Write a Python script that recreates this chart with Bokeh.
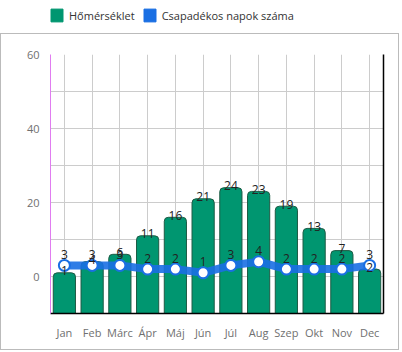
from bokeh.plotting import figure
from bokeh.layouts import column
from bokeh.models import (Range1d, FactorRange, LinearAxis, FixedTicker, Legend, LegendItem,
                          ColumnDataSource)
from bokeh.core.properties import value
from bokeh.embed import file_html
from bokeh.resources import INLINE

months = ["Jan", "Feb", "Márc", "Ápr", "Máj", "Jún", "Júl", "Aug", "Szep", "Okt", "Nov", "Dec"]
temperature = [1, 4, 6, 11, 16, 21, 24, 23, 19, 13, 7, 2]
rainy_days = [3, 3, 3, 2, 2, 1, 3, 4, 2, 2, 2, 3]
series_names = ["Hőmérséklet", "Csapadékos napok száma"]
y_ticks = [0, 20, 40, 60]
y_grid = [-10, 0, 10, 20, 30, 40, 50, 60]

GREEN = "#009670"
GREEN_DARK = "#1d5a44"
BLUE = "#1a6fe3"
FONT = "Open Sans"

# ---- legend strip (outside the bordered box) ----
lg = figure(width=402, height=33, x_range=Range1d(0, 1), y_range=Range1d(0, 1),
            x_axis_location=None, y_axis_location=None,
            output_backend="svg", toolbar_location=None,
            min_border_left=13, min_border_top=7, min_border_right=0, min_border_bottom=0)
lg.grid.visible = False
lg.outline_line_color = None
# off-screen swatch renderers, used only by the legend
g1 = lg.vbar(x=[-5], top=[-5], bottom=[-6], width=0.8, fill_color=GREEN, line_color=GREEN,
             border_radius=3)
g2 = lg.vbar(x=[-5], top=[-5], bottom=[-6], width=0.8, fill_color=BLUE, line_color=BLUE,
             border_radius=3)
legend = Legend(items=[LegendItem(label=series_names[0], renderers=[g1]),
                       LegendItem(label=series_names[1], renderers=[g2])],
                orientation="horizontal", location="top_left",
                glyph_width=15, glyph_height=16, label_standoff=5, spacing=7,
                padding=0, margin=0, border_line_color=None, background_fill_alpha=0,
                label_text_font=FONT, label_text_font_size="11px", label_text_color="#333333")
lg.add_layout(legend, "center")

# ---- main chart ----
p = figure(width=399, height=317, x_range=FactorRange(*months, range_padding=0),
           y_range=Range1d(-10, 60), output_backend="svg", toolbar_location=None,
           min_border_left=49, min_border_right=17, min_border_top=20, min_border_bottom=38,
           styles={"border": "1px solid #bbbbbb"})
p.outline_line_color = None

p.yaxis.ticker = FixedTicker(ticks=y_ticks)
p.yaxis.axis_line_color = "#e07cf0"
p.yaxis.major_tick_line_color = None
p.yaxis.minor_tick_line_color = None
p.yaxis.major_label_text_color = "#707070"
p.yaxis.major_label_text_font = FONT
p.yaxis.major_label_text_font_size = "11px"
p.yaxis.major_label_standoff = 5

p.xaxis.axis_line_color = "black"
p.xaxis.axis_line_width = 1.5
p.xaxis.major_tick_line_color = None
p.xaxis.minor_tick_line_color = None
p.xaxis.major_label_text_color = "#707070"
p.xaxis.major_label_text_font = FONT
p.xaxis.major_label_text_font_size = "11px"
p.xaxis.major_label_standoff = 5

right = LinearAxis(ticker=FixedTicker(ticks=[]), axis_line_color="black", axis_line_width=1.5,
                   major_tick_line_color=None, minor_tick_line_color=None, major_label_text_alpha=0)
p.add_layout(right, "right")

p.ygrid.ticker = FixedTicker(ticks=y_grid)
p.ygrid.grid_line_color = "#cccccc"
p.xgrid.grid_line_color = "#cccccc"

src = ColumnDataSource(dict(m=months, t=temperature, r=rainy_days,
                            tl=[str(v) for v in temperature], rl=[str(v) for v in rainy_days]))

p.vbar(x="m", top="t", bottom=-10, width=0.8, source=src, fill_color=GREEN,
       line_color=GREEN_DARK, line_width=1, border_radius=(4, 4, 0, 0))
p.line(x="m", y="r", source=src, line_color=BLUE, line_width=8, line_alpha=0.9)
p.scatter(x="m", y="r", source=src, size=11, fill_color="white", line_color=BLUE, line_width=2)

p.text(x="m", y="r", text="rl", source=src, text_align="center", text_baseline="alphabetic",
       y_offset=-11, text_font=value(FONT), text_font_size="12px", text_color="#222222")
p.text(x="m", y="t", text="tl", source=src, text_align="center", text_baseline="alphabetic",
       y_offset=-2, text_font=value(FONT), text_font_size="12px", text_color="#222222")

layout = column(lg, p, spacing=0)
open("out.html", "w").write(file_html(layout, INLINE))
